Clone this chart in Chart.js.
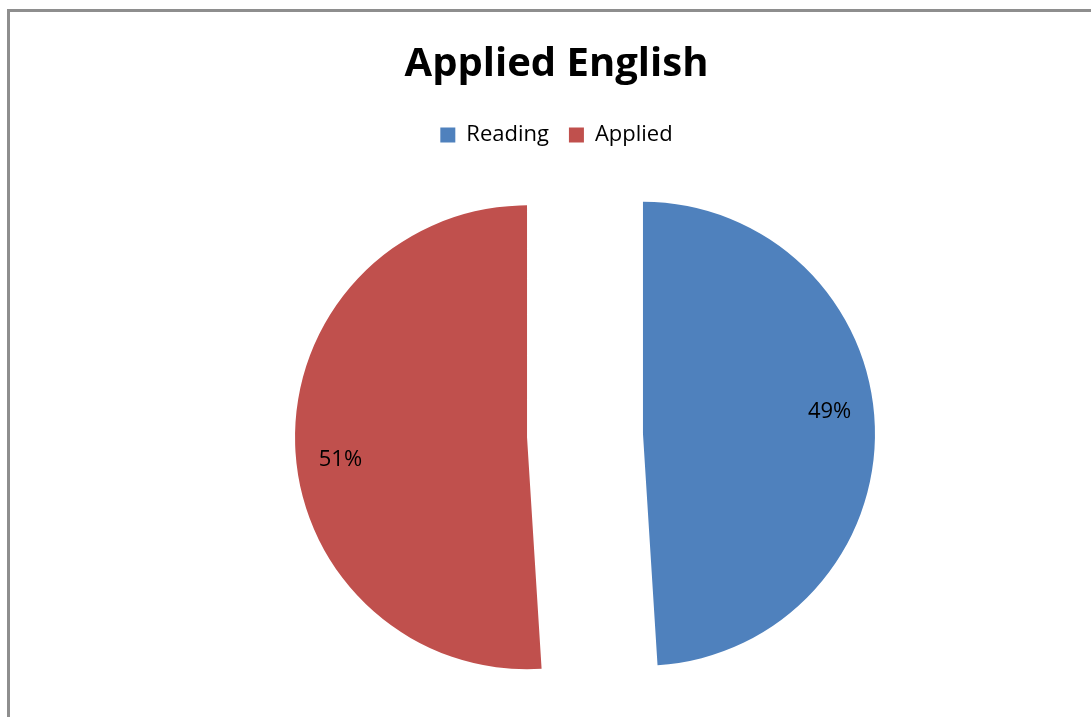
<!DOCTYPE html>
<html>
<head>
<meta charset="utf-8">
<script src="https://cdn.jsdelivr.net/npm/chart.js@4"></script>
<style>
    html, body { margin: 0; padding: 0; background: #fff; overflow: hidden; }
    body { width: 1091px; height: 717px; position: relative; }
    .frame {
        position: absolute;
        left: 7px;
        top: 9px;
        width: 1100px;
        height: 720px;
        border-left: 3px solid #8e8e8e;
        border-top: 3px solid #8e8e8e;
    }
    .frame canvas { display: block; }
</style>
</head>
<body>
<div class="frame">
    <canvas id="pieChart" width="1093" height="707"></canvas>
</div>
<script>
// chart data
const chartTitle = 'Applied English';
const categories = ['Reading', 'Applied'];
const shares = [49, 51];
const sliceColors = ['#4F81BD', '#C0504D'];

const FONT = '"Open Sans", Carlito, Calibri, sans-serif';
const EXPLODE = 58;      // px each slice is pulled out from the centre
const PIE_RADIUS = 232;

// draw the slices pulled apart (like excel's exploded pie)
const explodeSlices = {
    id: 'explodeSlices',
    beforeDatasetDraw(chart, args) {
        const ctx = chart.ctx;
        args.meta.data.forEach(arc => {
            const p = arc.getProps(['startAngle', 'endAngle'], true);
            const mid = (p.startAngle + p.endAngle) / 2;
            ctx.save();
            ctx.translate(Math.cos(mid) * EXPLODE, Math.sin(mid) * EXPLODE);
            arc.draw(ctx);
            ctx.restore();
        });
        return false;
    }
};

// percent labels on the slices
const sliceLabels = {
    id: 'sliceLabels',
    afterDatasetsDraw(chart) {
        const ctx = chart.ctx;
        const meta = chart.getDatasetMeta(0);
        const total = shares.reduce((a, b) => a + b, 0);
        ctx.save();
        ctx.font = '22px ' + FONT;
        ctx.fillStyle = '#000';
        ctx.textAlign = 'center';
        ctx.textBaseline = 'middle';
        meta.data.forEach((arc, i) => {
            const p = arc.getProps(['x', 'y', 'startAngle', 'endAngle', 'outerRadius'], true);
            const mid = (p.startAngle + p.endAngle) / 2;
            const cx = p.x + Math.cos(mid) * EXPLODE;
            const cy = p.y + Math.sin(mid) * EXPLODE;
            const a = mid - 5 * Math.PI / 180;
            const r = p.outerRadius * 0.81;
            const pct = Math.round(shares[i] / total * 100) + '%';
            ctx.fillText(pct, cx + Math.cos(a) * r, cy + Math.sin(a) * r);
        });
        ctx.restore();
    }
};

const ctx = document.getElementById('pieChart').getContext('2d');
const chart = new Chart(ctx, {
    type: 'pie',
    data: {
        labels: categories,
        datasets: [{
            data: shares,
            backgroundColor: sliceColors,
            borderWidth: 0,
            hoverOffset: 0,
            radius: PIE_RADIUS
        }]
    },
    options: {
        responsive: false,
        animation: false,
        layout: {
            padding: { left: 0, right: 0, top: 0, bottom: 4 }
        },
        plugins: {
            title: {
                display: true,
                text: chartTitle,
                color: '#000',
                font: { family: FONT, size: 40, weight: 'bold' },
                padding: { top: 29, bottom: 15 }
            },
            // empty box on the left, pushes the plot right of the title centre
            subtitle: {
                display: true,
                position: 'left',
                text: ' ',
                color: 'rgba(0,0,0,0)',
                font: { size: 10 },
                padding: { top: 45, bottom: 0 }
            },
            legend: {
                display: true,
                position: 'top',
                labels: {
                    color: '#000',
                    font: { family: FONT, size: 22 },
                    boxWidth: 15,
                    boxHeight: 15,
                    padding: 20
                }
            },
            tooltip: { enabled: false }
        }
    },
    plugins: [explodeSlices, sliceLabels]
});
</script>
</body>
</html>
